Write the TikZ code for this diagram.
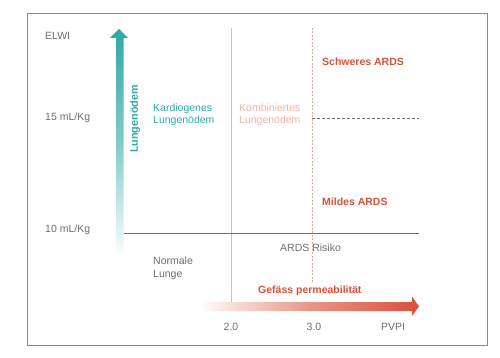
\documentclass[tikz,border=0pt]{standalone}
\usepackage{fontspec}
\setmainfont{Liberation Sans}
\usetikzlibrary{calc}
\definecolor{tealc}{HTML}{2FA9A6}
\definecolor{redc}{HTML}{D9503A}
\definecolor{salm}{HTML}{EDB5A5}
\definecolor{salmd}{HTML}{E6A494}
\definecolor{grayt}{HTML}{6E6E6E}
\definecolor{frame}{HTML}{8A8A8A}
\begin{document}
\begin{tikzpicture}[x=1pt,y=-1pt,
  lbl/.style={font=\fontsize{10.5}{12.5}\selectfont, inner sep=0pt, anchor=west, align=left},
  grayl/.style={lbl, text=grayt},
  tealt/.style={lbl, text=tealc},
  redt/.style={lbl, text=redc, font=\fontsize{10.5}{12.5}\selectfont\bfseries},
  pinkt/.style={lbl, text=salm}
]
\useasboundingbox (0,0) rectangle (500,358);
\draw[frame, line width=0.8pt] (27,13) rectangle (487,345);

% coordinates
\coordinate (v2t) at (231,28);
\coordinate (v2b) at (231,302);
\coordinate (v3t) at (312,28);
\coordinate (v3b) at (312,283);
\coordinate (h15r) at (419,118);
\coordinate (h15l) at (312,118);
\coordinate (h10l) at (124,233);
\coordinate (h10r) at (419,233);

% lines
\draw[salm, line width=0.6pt] (v2t) -- (v2b);
\draw[salmd, line width=0.6pt, dash pattern=on 2pt off 1.5pt] (v3t) -- (v3b);
\draw[grayt, line width=0.6pt, dash pattern=on 3pt off 2pt] (h15l) -- (h15r);
\draw[grayt, line width=0.6pt] (h10l) -- (h10r);

% teal arrow
\shade[top color=tealc, bottom color=white, middle color=tealc!60]
  (116,38) -- (110,38) -- (119,29) -- (128,38) -- (123.5,38) -- (123.5,258) -- (116,258) -- cycle;

% red arrow
\shade[left color=white, right color=redc, middle color=redc!60]
  (198,302) -- (412,302) -- (412,296.5) -- (419,306.5) -- (412,316) -- (412,311) -- (198,311) -- cycle;

% texts
\node[grayl] (elwi) at (45,36) {ELWI};
\node[grayl] (m15) at (45,118) {15 mL/Kg};
\node[grayl] (m10) at (45,230) {10 mL/Kg};
\node[text=tealc, font=\fontsize{10.8}{12}\selectfont\bfseries, rotate=90, inner sep=0pt] (lo) at (135,119) {Lungenödem};
\node[tealt] (kard) at (153,115) {Kardiogenes\\Lungenödem};
\node[pinkt] (komb) at (239,115) {Kombiniertes\\Lungenödem};
\node[redt] (schw) at (322,62) {Schweres ARDS};
\node[redt] (mild) at (322,202) {Mildes ARDS};
\node[grayl] (risk) at (280,248) {ARDS Risiko};
\node[grayl] (norm) at (153,268.5) {Normale\\Lunge};
\node[redt] (gef) at (258,291) {Gefäss permeabilität};
\node[grayl, anchor=center] (x2) at (231,327) {2.0};
\node[grayl, anchor=center] (x3) at (314,327) {3.0};
\node[grayl, anchor=center] (pvpi) at (393,327) {PVPI};
\end{tikzpicture}
\end{document}
